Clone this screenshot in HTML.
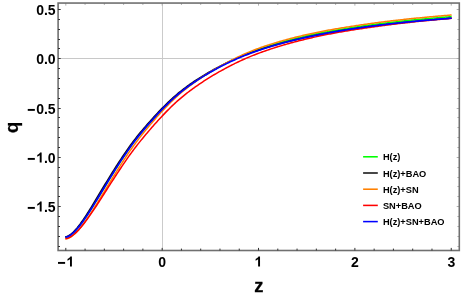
<!DOCTYPE html>
<html><head><meta charset="utf-8"><title>q(z)</title>
<style>
html,body{margin:0;padding:0;background:#fff;}
svg{display:block;will-change:transform;}

text{font-family:"Liberation Sans",sans-serif;font-weight:bold;fill:#000;}
.tl{font-size:14px;}
.al{font-size:18.3px;stroke:#000;stroke-width:0.3px;}
.lg{font-size:9.25px;}
</style></head><body>
<svg width="463" height="297" viewBox="0 0 463 297">
<rect width="463" height="297" fill="#fff"/>
<line x1="162.5" y1="3.05" x2="162.5" y2="250.5" stroke="#cbcbcb" stroke-width="1"/>
<line x1="58.1" y1="58.5" x2="459.3" y2="58.5" stroke="#c8c8c8" stroke-width="1"/>
<path d="M65.32,237.09 L66.52,236.99 L67.73,236.61 L68.93,236.03 L70.13,235.30 L71.34,234.43 L72.54,233.45 L73.74,232.36 L74.95,231.17 L76.15,229.89 L77.35,228.53 L78.56,227.10 L79.76,225.61 L80.96,224.05 L82.17,222.43 L83.37,220.76 L84.57,219.05 L85.78,217.29 L86.98,215.50 L88.18,213.67 L89.39,211.81 L90.59,209.93 L91.79,208.02 L93.00,206.09 L94.20,204.14 L95.40,202.18 L96.61,200.21 L97.81,198.23 L99.01,196.24 L100.22,194.24 L101.42,192.25 L102.63,190.25 L103.83,188.25 L105.03,186.26 L106.24,184.27 L107.44,182.28 L108.64,180.31 L109.85,178.34 L111.05,176.38 L112.25,174.43 L113.46,172.49 L114.66,170.56 L115.86,168.65 L117.07,166.75 L118.27,164.87 L119.47,163.00 L120.68,161.15 L121.88,159.32 L123.08,157.50 L124.29,155.70 L125.49,153.91 L126.69,152.15 L127.90,150.40 L129.10,148.68 L130.30,146.98 L131.51,145.31 L132.71,143.67 L133.91,142.06 L135.12,140.47 L136.32,138.91 L137.53,137.37 L138.73,135.86 L139.93,134.36 L141.14,132.89 L142.34,131.44 L143.54,130.00 L144.75,128.58 L145.95,127.17 L147.15,125.78 L148.36,124.40 L149.56,123.03 L150.76,121.67 L151.97,120.32 L153.17,118.97 L154.37,117.64 L155.58,116.31 L156.78,114.99 L157.98,113.69 L159.19,112.41 L160.39,111.14 L161.59,109.88 L162.80,108.65 L164.00,107.43 L165.20,106.23 L166.41,105.03 L167.61,103.86 L168.81,102.69 L170.02,101.55 L171.22,100.42 L172.43,99.30 L173.63,98.21 L174.83,97.14 L176.04,96.08 L177.24,95.05 L178.44,94.04 L179.65,93.05 L180.85,92.09 L182.05,91.13 L183.26,90.20 L184.46,89.28 L185.66,88.37 L186.87,87.47 L188.07,86.59 L189.27,85.72 L190.48,84.86 L191.68,84.02 L192.88,83.18 L194.09,82.36 L195.29,81.55 L196.49,80.74 L197.70,79.95 L198.90,79.17 L200.10,78.39 L201.31,77.63 L202.51,76.87 L203.71,76.12 L204.92,75.37 L206.12,74.64 L207.33,73.91 L208.53,73.18 L209.73,72.47 L210.94,71.76 L212.14,71.06 L213.34,70.36 L214.55,69.68 L215.75,69.00 L216.95,68.32 L218.16,67.66 L219.36,67.00 L220.56,66.34 L221.77,65.70 L222.97,65.06 L224.17,64.42 L225.38,63.79 L226.58,63.17 L227.78,62.56 L228.99,61.95 L230.19,61.35 L231.39,60.76 L232.60,60.18 L233.80,59.60 L235.00,59.04 L236.21,58.48 L237.41,57.92 L238.61,57.38 L239.82,56.85 L241.02,56.32 L242.23,55.79 L243.43,55.28 L244.63,54.77 L245.84,54.27 L247.04,53.77 L248.24,53.28 L249.45,52.80 L250.65,52.33 L251.85,51.86 L253.06,51.40 L254.26,50.95 L255.46,50.50 L256.67,50.06 L257.87,49.63 L259.07,49.20 L260.28,48.78 L261.48,48.37 L262.68,47.96 L263.89,47.56 L265.09,47.16 L266.29,46.77 L267.50,46.38 L268.70,46.00 L269.90,45.62 L271.11,45.25 L272.31,44.88 L273.51,44.52 L274.72,44.16 L275.92,43.80 L277.13,43.45 L278.33,43.10 L279.53,42.75 L280.74,42.41 L281.94,42.07 L283.14,41.74 L284.35,41.41 L285.55,41.08 L286.75,40.76 L287.96,40.44 L289.16,40.13 L290.36,39.81 L291.57,39.51 L292.77,39.20 L293.97,38.90 L295.18,38.60 L296.38,38.30 L297.58,38.01 L298.79,37.72 L299.99,37.44 L301.19,37.16 L302.40,36.88 L303.60,36.60 L304.80,36.33 L306.01,36.05 L307.21,35.79 L308.41,35.52 L309.62,35.26 L310.82,35.00 L312.03,34.74 L313.23,34.49 L314.43,34.24 L315.64,33.99 L316.84,33.74 L318.04,33.50 L319.25,33.26 L320.45,33.03 L321.65,32.79 L322.86,32.56 L324.06,32.33 L325.26,32.10 L326.47,31.88 L327.67,31.66 L328.87,31.44 L330.08,31.22 L331.28,31.01 L332.48,30.80 L333.69,30.58 L334.89,30.38 L336.09,30.17 L337.30,29.97 L338.50,29.76 L339.70,29.56 L340.91,29.36 L342.11,29.17 L343.31,28.97 L344.52,28.78 L345.72,28.58 L346.93,28.39 L348.13,28.20 L349.33,28.02 L350.54,27.83 L351.74,27.64 L352.94,27.46 L354.15,27.27 L355.35,27.09 L356.55,26.91 L357.76,26.73 L358.96,26.56 L360.16,26.38 L361.37,26.21 L362.57,26.03 L363.77,25.86 L364.98,25.69 L366.18,25.52 L367.38,25.36 L368.59,25.19 L369.79,25.03 L370.99,24.87 L372.20,24.71 L373.40,24.55 L374.60,24.39 L375.81,24.23 L377.01,24.08 L378.22,23.92 L379.42,23.77 L380.62,23.62 L381.83,23.47 L383.03,23.32 L384.23,23.18 L385.44,23.03 L386.64,22.89 L387.84,22.74 L389.05,22.60 L390.25,22.46 L391.45,22.32 L392.66,22.18 L393.86,22.04 L395.06,21.91 L396.27,21.77 L397.47,21.64 L398.67,21.50 L399.88,21.37 L401.08,21.24 L402.28,21.11 L403.49,20.98 L404.69,20.86 L405.89,20.73 L407.10,20.60 L408.30,20.48 L409.50,20.36 L410.71,20.23 L411.91,20.11 L413.12,19.99 L414.32,19.87 L415.52,19.75 L416.73,19.64 L417.93,19.52 L419.13,19.41 L420.34,19.29 L421.54,19.18 L422.74,19.06 L423.95,18.95 L425.15,18.84 L426.35,18.73 L427.56,18.62 L428.76,18.51 L429.96,18.40 L431.17,18.30 L432.37,18.19 L433.57,18.09 L434.78,17.98 L435.98,17.88 L437.18,17.77 L438.39,17.67 L439.59,17.57 L440.79,17.47 L442.00,17.37 L443.20,17.27 L444.40,17.17 L445.61,17.08 L446.81,16.98 L448.02,16.88 L449.22,16.79 L450.42,16.69 L451.63,16.60" fill="none" stroke="#00ff00" stroke-width="1.5" stroke-linejoin="round" stroke-linecap="butt"/>
<path d="M65.30,236.81 L66.46,236.67 L67.59,236.26 L68.73,235.67 L69.88,234.92 L71.04,234.04 L72.19,233.05 L73.36,231.95 L74.52,230.76 L75.70,229.48 L76.87,228.12 L78.04,226.68 L79.22,225.18 L80.40,223.62 L81.57,221.99 L82.75,220.32 L83.93,218.60 L85.11,216.84 L86.29,215.04 L87.48,213.21 L88.66,211.34 L89.84,209.45 L91.03,207.54 L92.22,205.60 L93.41,203.65 L94.60,201.69 L95.79,199.71 L96.98,197.72 L98.18,195.73 L99.37,193.73 L100.57,191.73 L101.77,189.74 L102.97,187.74 L104.18,185.74 L105.38,183.75 L106.59,181.77 L107.79,179.79 L109.00,177.82 L110.21,175.86 L111.41,173.91 L112.62,171.97 L113.83,170.04 L115.04,168.13 L116.25,166.23 L117.46,164.35 L118.67,162.48 L119.88,160.63 L121.09,158.79 L122.30,156.97 L123.51,155.17 L124.72,153.39 L125.93,151.62 L127.14,149.88 L128.35,148.15 L129.56,146.45 L130.77,144.78 L131.99,143.14 L133.20,141.52 L134.41,139.93 L135.62,138.37 L136.83,136.83 L138.05,135.31 L139.26,133.82 L140.47,132.35 L141.68,130.89 L142.90,129.45 L144.11,128.03 L145.32,126.63 L146.53,125.24 L147.74,123.86 L148.95,122.49 L150.16,121.14 L151.37,119.79 L152.58,118.45 L153.79,117.11 L155.00,115.79 L156.21,114.47 L157.42,113.17 L158.63,111.89 L159.84,110.61 L161.05,109.36 L162.26,108.13 L163.47,106.91 L164.68,105.70 L165.89,104.50 L167.10,103.32 L168.30,102.15 L169.51,100.99 L170.72,99.86 L171.93,98.74 L173.14,97.64 L174.35,96.55 L175.56,95.49 L176.77,94.45 L177.98,93.43 L179.19,92.44 L180.40,91.47 L181.61,90.51 L182.82,89.57 L184.03,88.64 L185.24,87.73 L186.45,86.83 L187.65,85.95 L188.86,85.08 L190.07,84.22 L191.28,83.38 L192.49,82.55 L193.70,81.73 L194.91,80.92 L196.12,80.12 L197.33,79.33 L198.53,78.56 L199.74,77.79 L200.95,77.03 L202.16,76.28 L203.37,75.54 L204.58,74.81 L205.78,74.09 L206.99,73.37 L208.20,72.67 L209.41,71.97 L210.62,71.28 L211.83,70.60 L213.04,69.92 L214.24,69.26 L215.45,68.60 L216.66,67.95 L217.87,67.31 L219.08,66.68 L220.29,66.05 L221.50,65.43 L222.71,64.82 L223.92,64.22 L225.12,63.63 L226.33,63.05 L227.54,62.47 L228.75,61.90 L229.96,61.34 L231.17,60.78 L232.38,60.24 L233.59,59.70 L234.80,59.17 L236.01,58.64 L237.22,58.12 L238.43,57.61 L239.64,57.11 L240.85,56.62 L242.06,56.13 L243.27,55.65 L244.48,55.17 L245.69,54.71 L246.90,54.25 L248.11,53.80 L249.32,53.35 L250.52,52.91 L251.73,52.47 L252.94,52.04 L254.15,51.62 L255.36,51.20 L256.56,50.79 L257.77,50.38 L258.98,49.97 L260.19,49.57 L261.39,49.18 L262.60,48.79 L263.81,48.40 L265.01,48.02 L266.22,47.65 L267.43,47.27 L268.64,46.91 L269.84,46.55 L271.05,46.19 L272.26,45.84 L273.46,45.49 L274.67,45.14 L275.88,44.80 L277.08,44.46 L278.29,44.13 L279.50,43.80 L280.70,43.47 L281.91,43.15 L283.12,42.83 L284.32,42.52 L285.53,42.21 L286.73,41.90 L287.94,41.59 L289.14,41.29 L290.35,40.99 L291.56,40.69 L292.76,40.40 L293.97,40.11 L295.17,39.82 L296.38,39.54 L297.58,39.26 L298.78,38.98 L299.99,38.70 L301.19,38.42 L302.40,38.15 L303.60,37.88 L304.80,37.61 L306.01,37.35 L307.21,37.08 L308.41,36.82 L309.62,36.56 L310.82,36.31 L312.03,36.06 L313.23,35.81 L314.43,35.56 L315.64,35.31 L316.84,35.07 L318.04,34.83 L319.25,34.59 L320.45,34.36 L321.65,34.12 L322.86,33.89 L324.06,33.66 L325.26,33.44 L326.47,33.21 L327.67,32.99 L328.87,32.77 L330.08,32.55 L331.28,32.34 L332.48,32.13 L333.69,31.92 L334.89,31.71 L336.09,31.50 L337.30,31.29 L338.50,31.09 L339.70,30.89 L340.91,30.69 L342.11,30.49 L343.31,30.30 L344.52,30.10 L345.72,29.91 L346.93,29.72 L348.13,29.53 L349.33,29.35 L350.54,29.16 L351.74,28.98 L352.94,28.80 L354.15,28.62 L355.35,28.44 L356.55,28.26 L357.76,28.09 L358.96,27.92 L360.16,27.74 L361.37,27.57 L362.57,27.41 L363.77,27.24 L364.98,27.07 L366.18,26.91 L367.38,26.75 L368.59,26.59 L369.79,26.43 L370.99,26.27 L372.20,26.11 L373.40,25.96 L374.60,25.80 L375.81,25.65 L377.01,25.50 L378.22,25.35 L379.42,25.20 L380.62,25.05 L381.83,24.90 L383.03,24.76 L384.23,24.62 L385.44,24.47 L386.64,24.33 L387.84,24.19 L389.05,24.05 L390.25,23.92 L391.45,23.78 L392.66,23.64 L393.86,23.51 L395.06,23.38 L396.27,23.24 L397.47,23.11 L398.67,22.98 L399.88,22.85 L401.08,22.73 L402.28,22.60 L403.49,22.47 L404.69,22.35 L405.89,22.22 L407.10,22.10 L408.30,21.98 L409.50,21.86 L410.71,21.74 L411.91,21.62 L413.12,21.50 L414.32,21.39 L415.52,21.27 L416.73,21.16 L417.93,21.04 L419.13,20.93 L420.34,20.82 L421.54,20.70 L422.74,20.59 L423.95,20.48 L425.15,20.37 L426.35,20.27 L427.56,20.16 L428.76,20.05 L429.96,19.95 L431.17,19.84 L432.37,19.74 L433.57,19.64 L434.78,19.53 L435.98,19.43 L437.18,19.33 L438.39,19.23 L439.59,19.13 L440.79,19.03 L442.00,18.94 L443.20,18.84 L444.40,18.74 L445.61,18.65 L446.81,18.55 L448.02,18.46 L449.22,18.36 L450.42,18.27 L451.63,18.18" fill="none" stroke="#111" stroke-width="1.5" stroke-linejoin="round" stroke-linecap="butt"/>
<path d="M65.32,238.90 L66.52,238.82 L67.73,238.50 L68.93,238.00 L70.13,237.36 L71.34,236.59 L72.54,235.71 L73.74,234.72 L74.95,233.64 L76.15,232.47 L77.35,231.21 L78.56,229.89 L79.76,228.49 L80.96,227.03 L82.17,225.51 L83.37,223.93 L84.57,222.31 L85.78,220.63 L86.98,218.92 L88.18,217.17 L89.39,215.38 L90.59,213.56 L91.79,211.71 L93.00,209.84 L94.20,207.94 L95.40,206.02 L96.61,204.09 L97.81,202.15 L99.01,200.19 L100.22,198.22 L101.42,196.24 L102.63,194.26 L103.83,192.28 L105.03,190.29 L106.24,188.30 L107.44,186.32 L108.64,184.34 L109.85,182.36 L111.05,180.39 L112.25,178.42 L113.46,176.46 L114.66,174.52 L115.86,172.58 L117.07,170.65 L118.27,168.74 L119.47,166.84 L120.68,164.95 L121.88,163.08 L123.08,161.22 L124.29,159.38 L125.49,157.55 L126.69,155.74 L127.90,153.94 L129.10,152.17 L130.30,150.42 L131.51,148.70 L132.71,147.01 L133.91,145.34 L135.12,143.70 L136.32,142.08 L137.53,140.49 L138.73,138.91 L139.93,137.36 L141.14,135.83 L142.34,134.31 L143.54,132.81 L144.75,131.33 L145.95,129.86 L147.15,128.41 L148.36,126.97 L149.56,125.54 L150.76,124.11 L151.97,122.70 L153.17,121.29 L154.37,119.90 L155.58,118.51 L156.78,117.13 L157.98,115.77 L159.19,114.42 L160.39,113.09 L161.59,111.77 L162.80,110.48 L164.00,109.20 L165.20,107.93 L166.41,106.68 L167.61,105.43 L168.81,104.21 L170.02,103.00 L171.22,101.80 L172.43,100.63 L173.63,99.47 L174.83,98.34 L176.04,97.22 L177.24,96.13 L178.44,95.06 L179.65,94.02 L180.85,92.99 L182.05,91.98 L183.26,90.99 L184.46,90.01 L185.66,89.05 L186.87,88.10 L188.07,87.17 L189.27,86.25 L190.48,85.34 L191.68,84.45 L192.88,83.57 L194.09,82.70 L195.29,81.84 L196.49,81.00 L197.70,80.16 L198.90,79.34 L200.10,78.53 L201.31,77.72 L202.51,76.93 L203.71,76.14 L204.92,75.36 L206.12,74.59 L207.33,73.83 L208.53,73.08 L209.73,72.34 L210.94,71.61 L212.14,70.88 L213.34,70.17 L214.55,69.46 L215.75,68.76 L216.95,68.07 L218.16,67.39 L219.36,66.71 L220.56,66.05 L221.77,65.38 L222.97,64.73 L224.17,64.07 L225.38,63.42 L226.58,62.78 L227.78,62.14 L228.99,61.51 L230.19,60.88 L231.39,60.27 L232.60,59.65 L233.80,59.05 L235.00,58.45 L236.21,57.87 L237.41,57.29 L238.61,56.72 L239.82,56.16 L241.02,55.60 L242.23,55.05 L243.43,54.51 L244.63,53.98 L245.84,53.45 L247.04,52.93 L248.24,52.41 L249.45,51.91 L250.65,51.41 L251.85,50.92 L253.06,50.44 L254.26,49.96 L255.46,49.50 L256.67,49.04 L257.87,48.59 L259.07,48.16 L260.28,47.73 L261.48,47.30 L262.68,46.88 L263.89,46.47 L265.09,46.07 L266.29,45.67 L267.50,45.27 L268.70,44.88 L269.90,44.50 L271.11,44.12 L272.31,43.74 L273.51,43.37 L274.72,43.00 L275.92,42.64 L277.13,42.28 L278.33,41.93 L279.53,41.57 L280.74,41.23 L281.94,40.88 L283.14,40.54 L284.35,40.21 L285.55,39.88 L286.75,39.55 L287.96,39.22 L289.16,38.90 L290.36,38.58 L291.57,38.27 L292.77,37.96 L293.97,37.65 L295.18,37.35 L296.38,37.05 L297.58,36.75 L298.79,36.46 L299.99,36.17 L301.19,35.88 L302.40,35.60 L303.60,35.32 L304.80,35.04 L306.01,34.76 L307.21,34.49 L308.41,34.22 L309.62,33.95 L310.82,33.69 L312.03,33.43 L313.23,33.17 L314.43,32.92 L315.64,32.67 L316.84,32.42 L318.04,32.17 L319.25,31.93 L320.45,31.69 L321.65,31.46 L322.86,31.23 L324.06,31.00 L325.26,30.77 L326.47,30.55 L327.67,30.32 L328.87,30.11 L330.08,29.89 L331.28,29.68 L332.48,29.46 L333.69,29.25 L334.89,29.05 L336.09,28.84 L337.30,28.64 L338.50,28.44 L339.70,28.24 L340.91,28.04 L342.11,27.84 L343.31,27.64 L344.52,27.45 L345.72,27.26 L346.93,27.06 L348.13,26.87 L349.33,26.68 L350.54,26.49 L351.74,26.31 L352.94,26.12 L354.15,25.93 L355.35,25.74 L356.55,25.56 L357.76,25.38 L358.96,25.19 L360.16,25.01 L361.37,24.84 L362.57,24.66 L363.77,24.48 L364.98,24.31 L366.18,24.14 L367.38,23.97 L368.59,23.80 L369.79,23.63 L370.99,23.47 L372.20,23.30 L373.40,23.14 L374.60,22.98 L375.81,22.82 L377.01,22.66 L378.22,22.50 L379.42,22.35 L380.62,22.19 L381.83,22.04 L383.03,21.89 L384.23,21.74 L385.44,21.59 L386.64,21.44 L387.84,21.29 L389.05,21.15 L390.25,21.00 L391.45,20.86 L392.66,20.72 L393.86,20.58 L395.06,20.44 L396.27,20.30 L397.47,20.16 L398.67,20.03 L399.88,19.89 L401.08,19.76 L402.28,19.63 L403.49,19.49 L404.69,19.36 L405.89,19.24 L407.10,19.11 L408.30,18.98 L409.50,18.85 L410.71,18.73 L411.91,18.61 L413.12,18.48 L414.32,18.36 L415.52,18.24 L416.73,18.12 L417.93,18.00 L419.13,17.88 L420.34,17.77 L421.54,17.65 L422.74,17.53 L423.95,17.42 L425.15,17.31 L426.35,17.19 L427.56,17.08 L428.76,16.97 L429.96,16.86 L431.17,16.75 L432.37,16.64 L433.57,16.54 L434.78,16.43 L435.98,16.32 L437.18,16.22 L438.39,16.11 L439.59,16.01 L440.79,15.91 L442.00,15.81 L443.20,15.71 L444.40,15.60 L445.61,15.51 L446.81,15.41 L448.02,15.31 L449.22,15.21 L450.42,15.11 L451.63,15.02" fill="none" stroke="#ff8000" stroke-width="1.5" stroke-linejoin="round" stroke-linecap="butt"/>
<path d="M65.32,238.56 L66.52,238.48 L67.73,238.16 L68.93,237.67 L70.13,237.05 L71.34,236.31 L72.54,235.46 L73.74,234.52 L74.95,233.48 L76.15,232.36 L77.35,231.17 L78.56,229.91 L79.76,228.58 L80.96,227.19 L82.17,225.75 L83.37,224.26 L84.57,222.72 L85.78,221.13 L86.98,219.51 L88.18,217.85 L89.39,216.16 L90.59,214.43 L91.79,212.68 L93.00,210.91 L94.20,209.12 L95.40,207.30 L96.61,205.47 L97.81,203.63 L99.01,201.77 L100.22,199.91 L101.42,198.03 L102.63,196.15 L103.83,194.27 L105.03,192.38 L106.24,190.49 L107.44,188.60 L108.64,186.72 L109.85,184.84 L111.05,182.96 L112.25,181.08 L113.46,179.22 L114.66,177.36 L115.86,175.51 L117.07,173.67 L118.27,171.84 L119.47,170.02 L120.68,168.21 L121.88,166.41 L123.08,164.63 L124.29,162.86 L125.49,161.11 L126.69,159.36 L127.90,157.64 L129.10,155.93 L130.30,154.24 L131.51,152.59 L132.71,150.95 L133.91,149.34 L135.12,147.76 L136.32,146.19 L137.53,144.65 L138.73,143.13 L139.93,141.62 L141.14,140.14 L142.34,138.67 L143.54,137.21 L144.75,135.77 L145.95,134.34 L147.15,132.93 L148.36,131.52 L149.56,130.13 L150.76,128.74 L151.97,127.36 L153.17,125.98 L154.37,124.61 L155.58,123.25 L156.78,121.90 L157.98,120.57 L159.19,119.24 L160.39,117.93 L161.59,116.64 L162.80,115.37 L164.00,114.11 L165.20,112.86 L166.41,111.62 L167.61,110.39 L168.81,109.18 L170.02,107.99 L171.22,106.81 L172.43,105.64 L173.63,104.50 L174.83,103.37 L176.04,102.27 L177.24,101.18 L178.44,100.12 L179.65,99.08 L180.85,98.07 L182.05,97.06 L183.26,96.07 L184.46,95.10 L185.66,94.14 L186.87,93.20 L188.07,92.27 L189.27,91.35 L190.48,90.44 L191.68,89.55 L192.88,88.67 L194.09,87.80 L195.29,86.94 L196.49,86.10 L197.70,85.26 L198.90,84.44 L200.10,83.62 L201.31,82.81 L202.51,82.02 L203.71,81.23 L204.92,80.44 L206.12,79.67 L207.33,78.91 L208.53,78.15 L209.73,77.40 L210.94,76.66 L212.14,75.93 L213.34,75.21 L214.55,74.50 L215.75,73.79 L216.95,73.09 L218.16,72.40 L219.36,71.72 L220.56,71.05 L221.77,70.38 L222.97,69.72 L224.17,69.06 L225.38,68.41 L226.58,67.77 L227.78,67.13 L228.99,66.50 L230.19,65.88 L231.39,65.26 L232.60,64.65 L233.80,64.05 L235.00,63.45 L236.21,62.86 L237.41,62.28 L238.61,61.71 L239.82,61.14 L241.02,60.58 L242.23,60.03 L243.43,59.48 L244.63,58.95 L245.84,58.42 L247.04,57.90 L248.24,57.38 L249.45,56.88 L250.65,56.38 L251.85,55.89 L253.06,55.41 L254.26,54.93 L255.46,54.46 L256.67,54.00 L257.87,53.54 L259.07,53.09 L260.28,52.65 L261.48,52.21 L262.68,51.78 L263.89,51.35 L265.09,50.93 L266.29,50.51 L267.50,50.10 L268.70,49.69 L269.90,49.29 L271.11,48.89 L272.31,48.50 L273.51,48.11 L274.72,47.72 L275.92,47.34 L277.13,46.96 L278.33,46.59 L279.53,46.22 L280.74,45.86 L281.94,45.50 L283.14,45.14 L284.35,44.79 L285.55,44.44 L286.75,44.10 L287.96,43.76 L289.16,43.42 L290.36,43.09 L291.57,42.76 L292.77,42.43 L293.97,42.11 L295.18,41.79 L296.38,41.48 L297.58,41.16 L298.79,40.85 L299.99,40.55 L301.19,40.25 L302.40,39.95 L303.60,39.65 L304.80,39.36 L306.01,39.07 L307.21,38.78 L308.41,38.50 L309.62,38.22 L310.82,37.94 L312.03,37.66 L313.23,37.39 L314.43,37.12 L315.64,36.86 L316.84,36.59 L318.04,36.33 L319.25,36.07 L320.45,35.82 L321.65,35.57 L322.86,35.32 L324.06,35.07 L325.26,34.83 L326.47,34.59 L327.67,34.35 L328.87,34.12 L330.08,33.89 L331.28,33.66 L332.48,33.43 L333.69,33.21 L334.89,32.99 L336.09,32.77 L337.30,32.55 L338.50,32.34 L339.70,32.13 L340.91,31.92 L342.11,31.71 L343.31,31.51 L344.52,31.30 L345.72,31.10 L346.93,30.90 L348.13,30.70 L349.33,30.51 L350.54,30.31 L351.74,30.12 L352.94,29.93 L354.15,29.74 L355.35,29.55 L356.55,29.37 L357.76,29.18 L358.96,29.00 L360.16,28.82 L361.37,28.64 L362.57,28.46 L363.77,28.28 L364.98,28.10 L366.18,27.93 L367.38,27.75 L368.59,27.58 L369.79,27.40 L370.99,27.23 L372.20,27.06 L373.40,26.89 L374.60,26.72 L375.81,26.55 L377.01,26.39 L378.22,26.22 L379.42,26.06 L380.62,25.90 L381.83,25.74 L383.03,25.58 L384.23,25.42 L385.44,25.26 L386.64,25.11 L387.84,24.95 L389.05,24.80 L390.25,24.65 L391.45,24.50 L392.66,24.35 L393.86,24.20 L395.06,24.05 L396.27,23.91 L397.47,23.76 L398.67,23.62 L399.88,23.48 L401.08,23.34 L402.28,23.20 L403.49,23.06 L404.69,22.92 L405.89,22.79 L407.10,22.65 L408.30,22.52 L409.50,22.39 L410.71,22.25 L411.91,22.12 L413.12,21.99 L414.32,21.87 L415.52,21.74 L416.73,21.61 L417.93,21.49 L419.13,21.36 L420.34,21.24 L421.54,21.12 L422.74,20.99 L423.95,20.87 L425.15,20.75 L426.35,20.63 L427.56,20.52 L428.76,20.40 L429.96,20.28 L431.17,20.17 L432.37,20.05 L433.57,19.94 L434.78,19.83 L435.98,19.72 L437.18,19.60 L438.39,19.49 L439.59,19.38 L440.79,19.28 L442.00,19.17 L443.20,19.06 L444.40,18.96 L445.61,18.85 L446.81,18.75 L448.02,18.64 L449.22,18.54 L450.42,18.44 L451.63,18.34" fill="none" stroke="#ff0000" stroke-width="1.5" stroke-linejoin="round" stroke-linecap="butt"/>
<path d="M65.32,237.09 L66.52,236.99 L67.73,236.61 L68.93,236.03 L70.13,235.30 L71.34,234.43 L72.54,233.45 L73.74,232.36 L74.95,231.17 L76.15,229.89 L77.35,228.53 L78.56,227.10 L79.76,225.61 L80.96,224.05 L82.17,222.43 L83.37,220.76 L84.57,219.05 L85.78,217.29 L86.98,215.50 L88.18,213.67 L89.39,211.81 L90.59,209.93 L91.79,208.02 L93.00,206.09 L94.20,204.14 L95.40,202.18 L96.61,200.21 L97.81,198.23 L99.01,196.24 L100.22,194.24 L101.42,192.25 L102.63,190.25 L103.83,188.25 L105.03,186.26 L106.24,184.27 L107.44,182.28 L108.64,180.31 L109.85,178.34 L111.05,176.38 L112.25,174.43 L113.46,172.49 L114.66,170.56 L115.86,168.65 L117.07,166.75 L118.27,164.87 L119.47,163.00 L120.68,161.15 L121.88,159.32 L123.08,157.50 L124.29,155.70 L125.49,153.91 L126.69,152.15 L127.90,150.40 L129.10,148.68 L130.30,146.98 L131.51,145.31 L132.71,143.67 L133.91,142.06 L135.12,140.47 L136.32,138.91 L137.53,137.37 L138.73,135.86 L139.93,134.36 L141.14,132.89 L142.34,131.44 L143.54,130.00 L144.75,128.58 L145.95,127.17 L147.15,125.78 L148.36,124.40 L149.56,123.03 L150.76,121.67 L151.97,120.32 L153.17,118.97 L154.37,117.64 L155.58,116.31 L156.78,114.99 L157.98,113.69 L159.19,112.41 L160.39,111.14 L161.59,109.88 L162.80,108.65 L164.00,107.43 L165.20,106.22 L166.41,105.03 L167.61,103.85 L168.81,102.68 L170.02,101.53 L171.22,100.39 L172.43,99.27 L173.63,98.18 L174.83,97.10 L176.04,96.04 L177.24,95.00 L178.44,93.99 L179.65,93.00 L180.85,92.03 L182.05,91.07 L183.26,90.13 L184.46,89.21 L185.66,88.30 L186.87,87.40 L188.07,86.52 L189.27,85.65 L190.48,84.79 L191.68,83.95 L192.88,83.12 L194.09,82.30 L195.29,81.49 L196.49,80.69 L197.70,79.91 L198.90,79.13 L200.10,78.36 L201.31,77.60 L202.51,76.85 L203.71,76.11 L204.92,75.38 L206.12,74.65 L207.33,73.93 L208.53,73.22 L209.73,72.52 L210.94,71.83 L212.14,71.15 L213.34,70.47 L214.55,69.80 L215.75,69.14 L216.95,68.49 L218.16,67.85 L219.36,67.21 L220.56,66.58 L221.77,65.96 L222.97,65.35 L224.17,64.74 L225.38,64.14 L226.58,63.55 L227.78,62.97 L228.99,62.39 L230.19,61.82 L231.39,61.26 L232.60,60.71 L233.80,60.16 L235.00,59.62 L236.21,59.09 L237.41,58.56 L238.61,58.04 L239.82,57.53 L241.02,57.03 L242.23,56.53 L243.43,56.04 L244.63,55.56 L245.84,55.08 L247.04,54.61 L248.24,54.15 L249.45,53.70 L250.65,53.25 L251.85,52.80 L253.06,52.37 L254.26,51.93 L255.46,51.50 L256.67,51.08 L257.87,50.66 L259.07,50.25 L260.28,49.84 L261.48,49.44 L262.68,49.04 L263.89,48.65 L265.09,48.26 L266.29,47.88 L267.50,47.50 L268.70,47.12 L269.90,46.75 L271.11,46.38 L272.31,46.02 L273.51,45.66 L274.72,45.31 L275.92,44.96 L277.13,44.61 L278.33,44.27 L279.53,43.93 L280.74,43.59 L281.94,43.26 L283.14,42.93 L284.35,42.61 L285.55,42.29 L286.75,41.97 L287.96,41.66 L289.16,41.35 L290.36,41.04 L291.57,40.74 L292.77,40.44 L293.97,40.14 L295.18,39.85 L296.38,39.56 L297.58,39.27 L298.79,38.99 L299.99,38.71 L301.19,38.43 L302.40,38.16 L303.60,37.88 L304.80,37.61 L306.01,37.35 L307.21,37.08 L308.41,36.82 L309.62,36.56 L310.82,36.31 L312.03,36.06 L313.23,35.81 L314.43,35.56 L315.64,35.31 L316.84,35.07 L318.04,34.83 L319.25,34.59 L320.45,34.36 L321.65,34.12 L322.86,33.89 L324.06,33.66 L325.26,33.44 L326.47,33.21 L327.67,32.99 L328.87,32.77 L330.08,32.55 L331.28,32.34 L332.48,32.13 L333.69,31.92 L334.89,31.71 L336.09,31.50 L337.30,31.29 L338.50,31.09 L339.70,30.89 L340.91,30.69 L342.11,30.49 L343.31,30.30 L344.52,30.10 L345.72,29.91 L346.93,29.72 L348.13,29.53 L349.33,29.35 L350.54,29.16 L351.74,28.98 L352.94,28.80 L354.15,28.62 L355.35,28.44 L356.55,28.26 L357.76,28.09 L358.96,27.92 L360.16,27.74 L361.37,27.57 L362.57,27.41 L363.77,27.24 L364.98,27.07 L366.18,26.91 L367.38,26.75 L368.59,26.59 L369.79,26.43 L370.99,26.27 L372.20,26.11 L373.40,25.96 L374.60,25.80 L375.81,25.65 L377.01,25.50 L378.22,25.35 L379.42,25.20 L380.62,25.05 L381.83,24.90 L383.03,24.76 L384.23,24.62 L385.44,24.47 L386.64,24.33 L387.84,24.19 L389.05,24.05 L390.25,23.92 L391.45,23.78 L392.66,23.64 L393.86,23.51 L395.06,23.38 L396.27,23.24 L397.47,23.11 L398.67,22.98 L399.88,22.85 L401.08,22.73 L402.28,22.60 L403.49,22.47 L404.69,22.35 L405.89,22.22 L407.10,22.10 L408.30,21.98 L409.50,21.86 L410.71,21.74 L411.91,21.62 L413.12,21.50 L414.32,21.39 L415.52,21.27 L416.73,21.16 L417.93,21.04 L419.13,20.93 L420.34,20.82 L421.54,20.70 L422.74,20.59 L423.95,20.48 L425.15,20.37 L426.35,20.27 L427.56,20.16 L428.76,20.05 L429.96,19.95 L431.17,19.84 L432.37,19.74 L433.57,19.64 L434.78,19.53 L435.98,19.43 L437.18,19.33 L438.39,19.23 L439.59,19.13 L440.79,19.03 L442.00,18.94 L443.20,18.84 L444.40,18.74 L445.61,18.65 L446.81,18.55 L448.02,18.46 L449.22,18.36 L450.42,18.27 L451.63,18.18" fill="none" stroke="#0000ff" stroke-width="1.7" stroke-linejoin="round" stroke-linecap="butt"/>
<path d="M65.80,3.05v2.6 M85.07,3.05v1.9 M104.34,3.05v1.9 M123.62,3.05v1.9 M142.89,3.05v1.9 M162.16,3.05v2.6 M181.43,3.05v1.9 M200.70,3.05v1.9 M219.98,3.05v1.9 M239.25,3.05v1.9 M258.52,3.05v2.6 M277.79,3.05v1.9 M297.06,3.05v1.9 M316.34,3.05v1.9 M335.61,3.05v1.9 M354.88,3.05v2.6 M374.15,3.05v1.9 M393.42,3.05v1.9 M412.70,3.05v1.9 M431.97,3.05v1.9 M451.24,3.05v2.6 M459.3,246.50h-1.9 M459.3,236.50h-1.9 M459.3,226.50h-1.9 M459.3,216.50h-1.9 M459.3,206.50h-2.6 M459.3,196.50h-1.9 M459.3,186.50h-1.9 M459.3,177.50h-1.9 M459.3,167.50h-1.9 M459.3,157.50h-2.6 M459.3,147.50h-1.9 M459.3,137.50h-1.9 M459.3,127.50h-1.9 M459.3,117.50h-1.9 M459.3,108.50h-2.6 M459.3,98.50h-1.9 M459.3,88.50h-1.9 M459.3,78.50h-1.9 M459.3,68.50h-1.9 M459.3,58.50h-2.6 M459.3,48.50h-1.9 M459.3,39.50h-1.9 M459.3,29.50h-1.9 M459.3,19.50h-1.9 M459.3,9.50h-2.6" stroke="#b0b0b0" stroke-width="1" fill="none"/>
<rect x="58.1" y="3.05" width="401.2" height="247.45" fill="none" stroke="#707070" stroke-width="1.6"/>
<path d="M65.80,250.5v-2.6 M85.07,250.5v-1.9 M104.34,250.5v-1.9 M123.62,250.5v-1.9 M142.89,250.5v-1.9 M162.16,250.5v-2.6 M181.43,250.5v-1.9 M200.70,250.5v-1.9 M219.98,250.5v-1.9 M239.25,250.5v-1.9 M258.52,250.5v-2.6 M277.79,250.5v-1.9 M297.06,250.5v-1.9 M316.34,250.5v-1.9 M335.61,250.5v-1.9 M354.88,250.5v-2.6 M374.15,250.5v-1.9 M393.42,250.5v-1.9 M412.70,250.5v-1.9 M431.97,250.5v-1.9 M451.24,250.5v-2.6 M58.1,246.50h1.9 M58.1,236.50h1.9 M58.1,226.50h1.9 M58.1,216.50h1.9 M58.1,206.50h2.6 M58.1,196.50h1.9 M58.1,186.50h1.9 M58.1,177.50h1.9 M58.1,167.50h1.9 M58.1,157.50h2.6 M58.1,147.50h1.9 M58.1,137.50h1.9 M58.1,127.50h1.9 M58.1,117.50h1.9 M58.1,108.50h2.6 M58.1,98.50h1.9 M58.1,88.50h1.9 M58.1,78.50h1.9 M58.1,68.50h1.9 M58.1,58.50h2.6 M58.1,48.50h1.9 M58.1,39.50h1.9 M58.1,29.50h1.9 M58.1,19.50h1.9 M58.1,9.50h2.6" stroke="#303030" stroke-width="1" fill="none"/>
<text class="tl" x="55.6" y="14.50" text-anchor="end">0.5</text>
<text class="tl" x="55.6" y="63.50" text-anchor="end">0.0</text>
<text class="tl" x="55.6" y="113.50" text-anchor="end">0.5</text>
<rect x="27.75" y="108.95" width="7.1" height="1.9" fill="#000"/>
<text class="tl" x="55.6" y="162.50" text-anchor="end">.0</text>
<path d="M806 0H525V1059Q371 915 162 846V1091Q272 1127 401 1227.5Q530 1328 578 1462H806Z" transform="translate(36.14,162.50) scale(0.006836,-0.006836)" fill="#000"/>
<rect x="27.75" y="157.95" width="7.1" height="1.9" fill="#000"/>
<text class="tl" x="55.6" y="211.50" text-anchor="end">.5</text>
<path d="M806 0H525V1059Q371 915 162 846V1091Q272 1127 401 1227.5Q530 1328 578 1462H806Z" transform="translate(36.14,211.50) scale(0.006836,-0.006836)" fill="#000"/>
<rect x="27.75" y="206.95" width="7.1" height="1.9" fill="#000"/>
<text class="tl" x="162.26" y="266.5" text-anchor="middle">0</text>
<text class="tl" x="354.98" y="266.5" text-anchor="middle">2</text>
<text class="tl" x="451.34" y="266.5" text-anchor="middle">3</text>
<path d="M806 0H525V1059Q371 915 162 846V1091Q272 1127 401 1227.5Q530 1328 578 1462H806Z" transform="translate(254.52,266.50) scale(0.006836,-0.006836)" fill="#000"/>
<path d="M806 0H525V1059Q371 915 162 846V1091Q272 1127 401 1227.5Q530 1328 578 1462H806Z" transform="translate(66.40,266.50) scale(0.006836,-0.006836)" fill="#000"/>
<rect x="58.0" y="261.95" width="7.1" height="1.9" fill="#000"/>
<text class="al" x="258.8" y="292.2" text-anchor="middle">z</text>
<text class="al" transform="translate(17.6,127.4) rotate(-90)" text-anchor="middle">q</text>
<line x1="363.1" y1="156.80" x2="377.8" y2="156.80" stroke="#00ff00" stroke-width="1.55"/>
<text class="lg" x="382.9" y="160.30">H(z)</text>
<line x1="363.1" y1="173.00" x2="377.8" y2="173.00" stroke="#111" stroke-width="1.55"/>
<text class="lg" x="382.9" y="176.50">H(z)+BAO</text>
<line x1="363.1" y1="189.20" x2="377.8" y2="189.20" stroke="#ff8000" stroke-width="1.55"/>
<text class="lg" x="382.9" y="192.70">H(z)+SN</text>
<line x1="363.1" y1="205.40" x2="377.8" y2="205.40" stroke="#ff0000" stroke-width="1.55"/>
<text class="lg" x="382.9" y="208.90">SN+BAO</text>
<line x1="363.1" y1="221.60" x2="377.8" y2="221.60" stroke="#0000ff" stroke-width="1.55"/>
<text class="lg" x="382.9" y="225.10">H(z)+SN+BAO</text>
</svg></body></html>
